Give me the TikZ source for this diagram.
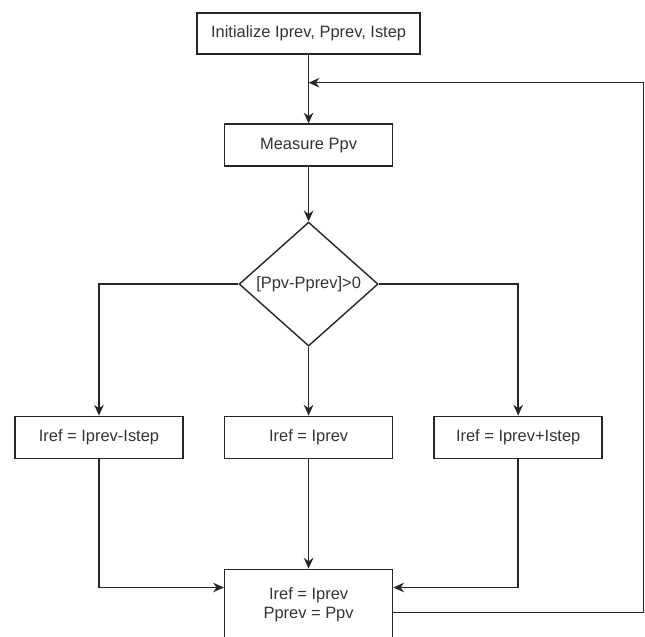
\documentclass[tikz,border=0pt]{standalone}
\usepackage{fontspec}
\setmainfont{Liberation Sans}
\usepackage{tikz}
\usetikzlibrary{arrows.meta}
\usetikzlibrary{shapes,positioning}

\begin{document}
\begin{tikzpicture}[node distance = 3cm, auto, font=\fontsize{11.7}{13.5}\selectfont]
% Define block styles
\tikzstyle{decision} = [diamond, draw=black!85, line width=1pt,
    minimum width=3.475cm, minimum height=3.1cm, inner sep=0pt]
\tikzstyle{block} = [rectangle, draw=black!85, line width=1pt, text=black!80,
    text centered, minimum width=4.2cm, minimum height=1.05cm]
\tikzstyle{line} = [draw=black!85, line width=1pt, -{Stealth[length=2.7mm, width=2.4mm]}]

    % Frame of the page
    \useasboundingbox (-7.715,0.8375) rectangle (8.41,-15.0875);
    \clip (-7.715,0.8375) rectangle (8.41,-15.0875);

    % Place nodes
    \node [block, minimum width=5.575cm, minimum height=1.025cm] (init) {Initialize Iprev, Pprev, Istep};
    \node [block, below of=init, node distance=2.79cm] (measure) {Measure Ppv};
    \node [decision, below of=measure, node distance=3.475cm] (decide) {};
    \node [text=black!80] (condition) at (decide) {[Ppv-Pprev]>0};
    \node [block, below of=decide, node distance=3.83cm] (hold) {Iref = Iprev};
    \node [block, left of=hold, node distance=5.24cm] (decrease) {Iref = Iprev-Istep};
    \node [block, right of=hold, node distance=5.24cm] (increase) {Iref = Iprev+Istep};
    \node [block, below of=hold, node distance=4.175cm, minimum height=1.75cm,
        align=center] (update) {Iref = Iprev\\Pprev = Ppv};
    \coordinate [below of=init, node distance=1.23cm] (join);
    % Draw edges
    \path [line] (init) -- (measure);
    \path [line] (measure) -- (decide);
    \path [line] (decide) -| (decrease);
    \path [line] (decide) -- (hold);
    \path [line] (decide) -| (increase);
    \path [line] (decrease) |- ([yshift=0.42cm]update.west);
    \path [line] (hold) -- (update);
    \path [line] (increase) |- ([yshift=0.42cm]update.east);
    \path [line] ([yshift=-0.2cm]update.east) -- ++(6.25,0) |- (join);
\end{tikzpicture}
\end{document}
